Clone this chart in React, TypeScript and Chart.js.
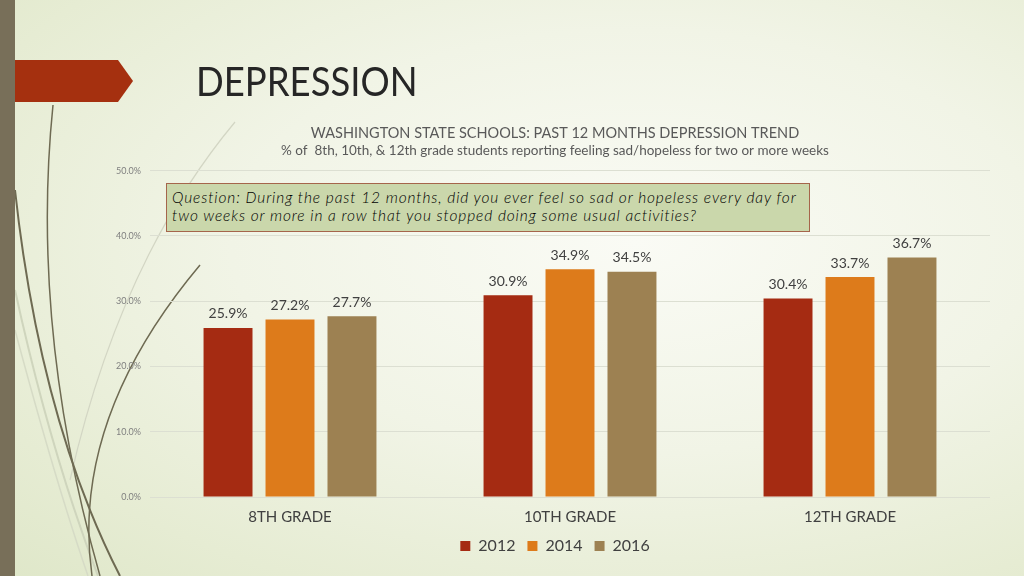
import React, { useEffect, useRef } from "react";
import { Chart, registerables } from "chart.js";

Chart.register(...registerables);

const FONT = "'Lato', 'Open Sans', sans-serif";

const categories = ["8TH GRADE", "10TH GRADE", "12TH GRADE"];
const years = ["2012", "2014", "2016"];
const values2012 = [25.9, 30.9, 30.4];
const values2014 = [27.2, 34.9, 33.7];
const values2016 = [27.7, 34.5, 36.7];
const seriesColors = ["#A52B12", "#DD7B1B", "#9D8152"];
const yTickValues = [0, 10, 20, 30, 40, 50];

const chartTitle = "WASHINGTON STATE SCHOOLS: PAST 12 MONTHS DEPRESSION TREND";
const chartSubtitle =
  "% of  8th, 10th, & 12th grade students reporting feeling sad/hopeless for two or more weeks";
const slideTitle = "DEPRESSION";
const questionLine1 =
  "Question: During the past 12 months, did you ever feel so sad or hopeless every day for";
const questionLine2 = "two weeks or more in a row that you stopped doing some usual activities?";

const dataLabelPlugin = {
  id: "dataLabels",
  afterDatasetsDraw(chart: any) {
    const ctx = chart.ctx;
    ctx.save();
    ctx.font = `14px ${FONT}`;
    ctx.fillStyle = "#404040";
    ctx.textAlign = "center";
    ctx.textBaseline = "middle";
    chart.data.datasets.forEach((ds: any, i: number) => {
      const meta = chart.getDatasetMeta(i);
      meta.data.forEach((bar: any, j: number) => {
        ctx.fillText(Number(ds.data[j]).toFixed(1) + "%", bar.x, bar.y - 14);
      });
    });
    ctx.restore();
  },
};

function BarChart() {
  const canvasRef = useRef<HTMLCanvasElement | null>(null);

  useEffect(() => {
    if (!canvasRef.current) return;
    const seriesValues = [values2012, values2014, values2016];
    const chart = new Chart(canvasRef.current, {
      type: "bar",
      data: {
        labels: categories,
        datasets: years.map((y, i) => ({
          label: y,
          data: seriesValues[i],
          backgroundColor: seriesColors[i],
          borderWidth: 0,
          categoryPercentage: 0.664,
          barPercentage: 0.79,
        })),
      },
      options: {
        animation: false,
        responsive: true,
        maintainAspectRatio: false,
        layout: { padding: { left: 0, right: 0, top: 0, bottom: 4 } },
        plugins: {
          title: {
            display: true,
            text: chartTitle,
            color: "#595959",
            font: { family: FONT, size: 14.5, weight: "normal" },
            padding: { top: 7, bottom: 0 },
          },
          subtitle: {
            display: true,
            text: chartSubtitle,
            color: "#595959",
            font: { family: FONT, size: 13.5, weight: "normal" },
            padding: { top: 0, bottom: 12 },
          },
          legend: {
            position: "bottom",
            labels: {
              boxWidth: 10,
              boxHeight: 10,
              padding: 12,
              color: "#404040",
              font: { family: FONT, size: 16 },
            },
          },
          tooltip: { enabled: false },
        },
        scales: {
          x: {
            grid: { display: false, drawTicks: false },
            border: { display: false },
            ticks: { color: "#404040", font: { family: FONT, size: 15 }, padding: 11 },
            afterFit: (s: any) => {
              s.height = 29;
            },
          },
          y: {
            min: 0,
            max: 50,
            afterBuildTicks: (s: any) => {
              s.ticks = yTickValues.map((v) => ({ value: v }));
            },
            afterFit: (s: any) => {
              s.width = 50;
            },
            ticks: {
              color: "#7f7f7f",
              font: { family: FONT, size: 9 },
              padding: 9,
              callback: (v: any) => Number(v).toFixed(1) + "%",
            },
            grid: { color: "#dcdfd2", drawTicks: false },
            border: { display: false },
          },
          yRight: {
            position: "right",
            display: true,
            min: 0,
            max: 50,
            ticks: { display: false },
            grid: { display: false, drawTicks: false },
            border: { display: false },
            afterFit: (s: any) => {
              s.width = 20;
            },
          },
        },
      },
      plugins: [dataLabelPlugin],
    });
    return () => chart.destroy();
  }, []);

  return <canvas ref={canvasRef} />;
}

export default function App() {
  return (
    <div
      style={{
        position: "fixed",
        left: 0,
        top: 0,
        width: 1024,
        height: 576,
        overflow: "hidden",
        background:
          "radial-gradient(ellipse at 62% 42%, #fafbf5 0%, #f1f4e6 45%, #e6ecd3 80%, #dfe7c9 100%)",
        fontFamily: FONT,
      }}
    >
      <svg
        width={1024}
        height={576}
        style={{ position: "absolute", left: 0, top: 0 }}
      >
        <path d="M235 122 Q120 260 70 480" stroke="#d3d6c4" strokeWidth={1.2} fill="none" />
        <path d="M15 290 Q50 450 98 576" stroke="#cfd5bd" strokeWidth={2} fill="none" />
        <path d="M15 330 Q55 480 88 576" stroke="#d6dbc6" strokeWidth={1.5} fill="none" />
        <path d="M53 105 Q30 330 100 576" stroke="#6e6a52" strokeWidth={1.5} fill="none" />
        <path d="M15 190 Q40 420 120 576" stroke="#6e6a52" strokeWidth={2} fill="none" />
        <path d="M200 265 Q70 420 92 576" stroke="#6e6a52" strokeWidth={1.5} fill="none" />
        <polygon points="0,60 118,60 133,81 118,102 0,102" fill="#A5300F" />
        <rect x={0} y={0} width={15} height={576} fill="#786F59" />
      </svg>
      <div
        style={{
          position: "absolute",
          left: 196,
          top: 58,
          fontSize: 41,
          lineHeight: "46px",
          color: "#262626",
          fontFamily: FONT,
          transform: "scaleX(0.89)",
          transformOrigin: "left top",
          whiteSpace: "nowrap",
        }}
      >
        {slideTitle}
      </div>
      <div
        style={{
          position: "absolute",
          left: 100,
          top: 118,
          width: 910,
          height: 450,
        }}
      >
        <BarChart />
      </div>
      <div
        style={{
          position: "absolute",
          left: 166,
          top: 183,
          width: 644,
          height: 49,
          boxSizing: "border-box",
          background: "#cad7ab",
          border: "1px solid #a5654b",
          padding: "4px 5px",
          fontStyle: "italic",
          fontWeight: 300,
          fontSize: 15.5,
          letterSpacing: "0.88px",
          lineHeight: "18px",
          color: "#000000",
          fontFamily: FONT,
          whiteSpace: "nowrap",
        }}
      >
        <div>{questionLine1}</div>
        <div>{questionLine2}</div>
      </div>
    </div>
  );
}
